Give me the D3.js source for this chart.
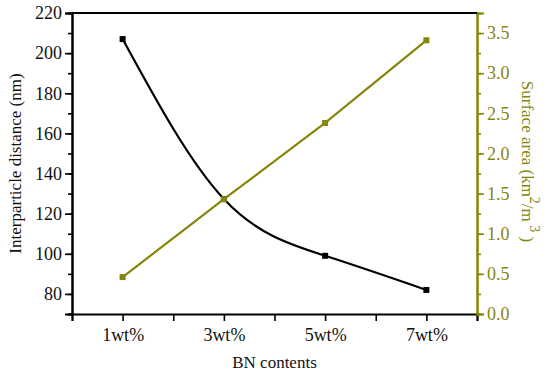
<!DOCTYPE html>
<html lang="en">
<head>
  <meta charset="UTF-8">
  <title>BN contents</title>
  <style>
    body { margin: 0; background: #fff; }
    text { font-family: "Liberation Serif", "Times New Roman", serif; }
  </style>
  <script src="https://cdn.jsdelivr.net/npm/d3@7"></script>
</head>
<body>
<script>
  var contents = [1, 3, 5, 7];            // BN wt%
  var labels = ["1wt%", "3wt%", "5wt%", "7wt%"];
  var distance = [207, 127.3, 99, 82];     // nm
  var surface = [0.46, 1.43, 2.38, 3.41];  // km2/m3

  var olive = "#86860a";
  var W = 550, H = 377;
  var m = {left: 72, right: 73, top: 13, bottom: 63};
  var w = W - m.left - m.right, h = H - m.top - m.bottom;

  var svg = d3.select("body").append("svg").attr("width", W).attr("height", H);
  var g = svg.append("g").attr("transform", "translate(" + m.left + "," + m.top + ")");

  var x = d3.scaleLinear().domain([0, 8]).range([0, w]);
  var yL = d3.scaleLinear().domain([70, 220]).range([h, 0]);
  var yR = d3.scaleLinear().domain([0, 3.75]).range([h, 0]);

  // x axis: a tick at every wt%, labels only on the measured ones
  g.append("g").attr("transform", "translate(0," + h + ")")
    .call(d3.axisBottom(x).tickValues(d3.range(0, 9)).tickSize(7).tickFormat(function(d) {
      var i = contents.indexOf(d);
      return i < 0 ? "" : labels[i];
    }).tickPadding(7));

  g.append("g")
    .call(d3.axisLeft(yL).tickValues(d3.range(70, 221, 10)).tickSize(4).tickFormat(""));
  g.append("g")
    .call(d3.axisLeft(yL).tickValues(d3.range(80, 221, 20)).tickSize(7).tickPadding(3));

  var right = g.append("g").attr("transform", "translate(" + w + ",0)");
  right.append("g")
    .call(d3.axisRight(yR).tickValues(d3.range(0, 3.76, 0.25)).tickSize(4).tickFormat(""));
  right.append("g")
    .call(d3.axisRight(yR).tickValues(d3.range(0, 3.6, 0.5)).tickSize(7).tickPadding(3).tickFormat(d3.format(".1f")));

  g.selectAll(".domain").attr("stroke-width", 2);
  g.selectAll(".tick line").attr("stroke-width", 1.6);
  g.selectAll(".tick text").attr("font-size", 18).attr("fill", "#111");
  right.selectAll(".domain, .tick line").attr("stroke", olive);
  right.selectAll(".tick text").attr("fill", olive);

  // top frame
  g.append("line").attr("x1", 0).attr("x2", w).attr("y1", 0).attr("y2", 0)
    .attr("stroke", "#000").attr("stroke-width", 2);

  // series
  var lineL = d3.line()
    .x(function(d, i) { return x(contents[i]); })
    .y(function(d) { return yL(d); })
    .curve(d3.curveNatural);
  var lineR = d3.line()
    .x(function(d, i) { return x(contents[i]); })
    .y(function(d) { return yR(d); });

  g.append("path").datum(distance).attr("d", lineL)
    .attr("fill", "none").attr("stroke", "#000").attr("stroke-width", 2.2);
  g.append("path").datum(surface).attr("d", lineR)
    .attr("fill", "none").attr("stroke", olive).attr("stroke-width", 2.2);

  var s = 6;
  g.selectAll(".mk-l").data(distance).enter().append("rect")
    .attr("x", function(d, i) { return x(contents[i]) - s / 2; })
    .attr("y", function(d) { return yL(d) - s / 2; })
    .attr("width", s).attr("height", s).attr("fill", "#000");
  g.selectAll(".mk-r").data(surface).enter().append("rect")
    .attr("x", function(d, i) { return x(contents[i]) - s / 2; })
    .attr("y", function(d) { return yR(d) - s / 2; })
    .attr("width", s).attr("height", s).attr("fill", olive);

  // axis titles
  svg.append("text").attr("x", m.left + w / 2).attr("y", 368)
    .attr("text-anchor", "middle").attr("font-size", 17).attr("fill", "#111")
    .text("BN contents");

  svg.append("text")
    .attr("transform", "translate(21," + (m.top + h / 2) + ")rotate(-90)")
    .attr("text-anchor", "middle").attr("font-size", 17).attr("fill", "#111")
    .text("Interparticle distance (nm)");

  var rt = svg.append("text")
    .attr("transform", "translate(522," + (m.top + h / 2 - 2) + ")rotate(90)")
    .attr("text-anchor", "middle").attr("font-size", 17).attr("fill", olive);
  rt.append("tspan").text("Surface area (km");
  rt.append("tspan").attr("dy", -8).attr("font-size", 14).text("2");
  rt.append("tspan").attr("dy", 8).text("/m");
  rt.append("tspan").attr("dy", -8).attr("font-size", 14).text(" 3");
  rt.append("tspan").attr("dy", 8).text(" )");
</script>
</body>
</html>
